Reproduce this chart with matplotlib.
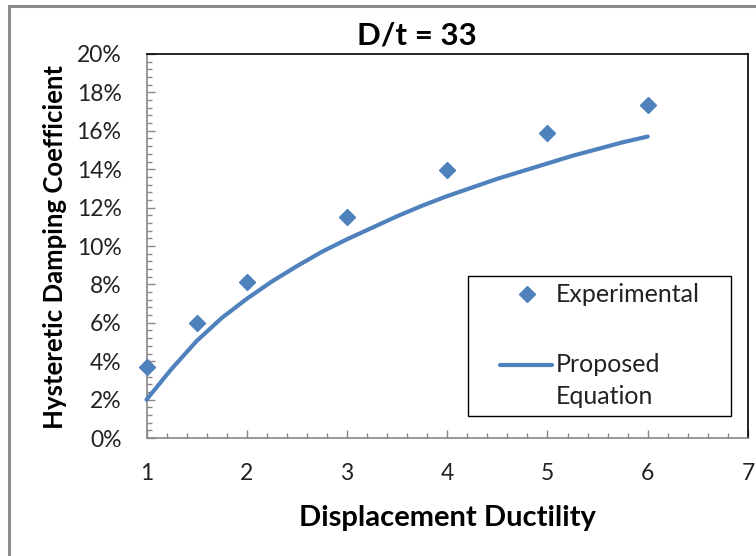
import matplotlib
matplotlib.use("Agg")
import matplotlib.pyplot as plt
from matplotlib.ticker import MultipleLocator, FuncFormatter
from matplotlib.patches import Rectangle
from matplotlib.lines import Line2D

plt.rcParams['font.family'] = ['Lato', 'DejaVu Sans']

# Data
exp_ductility = [1, 1.5, 2, 3, 4, 5, 6]
exp_damping = [3.7, 6.0, 8.15, 11.5, 13.95, 15.9, 17.35]  # percent

eq_ductility = [1.0, 1.25, 1.5, 1.75, 2.0, 2.25, 2.5, 2.75, 3.0, 3.25, 3.5,
                3.75, 4.0, 4.25, 4.5, 4.75, 5.0, 5.25, 5.5, 5.75, 6.0]
eq_damping = [2.0, 3.6, 5.05, 6.25, 7.25, 8.15, 8.95, 9.7, 10.35, 10.95, 11.55,
              12.1, 12.6, 13.05, 13.5, 13.9, 14.3, 14.7, 15.05, 15.4, 15.7]

title = "D/t = 33"
xlabel = "Displacement Ductility"
ylabel = "Hysteretic Damping Coefficient"
labels = ["Experimental", "Proposed", "Equation"]

blue = "#4F81BD"
gray = "#868686"

fig = plt.figure(figsize=(7.56, 5.56), dpi=100)
ax = fig.add_axes([0.1938, 0.2122, 0.7956, 0.6907])

W, H = 756.0, 556.0
def fx(px):
    return px / W
def fy(py):
    return 1 - py / H

# outer chart border (extends beyond the image on right/bottom)
fig.patches.append(Rectangle((fx(9), -0.1), 1.2, fy(6) + 0.1,
                             transform=fig.transFigure, fill=False,
                             edgecolor="#8c8c8c", linewidth=2.2, zorder=0))

ax.plot(eq_ductility, eq_damping, color=blue, linewidth=3.0,
        solid_capstyle='round', solid_joinstyle='round', clip_on=False, zorder=3)
ax.plot(exp_ductility, exp_damping, linestyle='none', marker='D',
        markersize=8.5, color=blue, clip_on=False, zorder=4)

ax.set_xlim(1, 7)
ax.set_ylim(0, 20)
ax.xaxis.set_major_locator(MultipleLocator(1))
ax.xaxis.set_minor_locator(MultipleLocator(0.2))
ax.yaxis.set_major_locator(MultipleLocator(2))
ax.yaxis.set_minor_locator(MultipleLocator(0.4))
ax.yaxis.set_major_formatter(FuncFormatter(lambda v, p: f"{v:.0f}%"))

for s in ['top', 'right']:
    ax.spines[s].set_color('black')
    ax.spines[s].set_linewidth(1.2)
for s in ['left', 'bottom']:
    ax.spines[s].set_color(gray)
    ax.spines[s].set_linewidth(1.2)

ax.tick_params(which='both', direction='in', color=gray, width=1.0,
               labelsize=16.5, labelcolor='#222222')
ax.tick_params(which='major', length=5.5)
ax.tick_params(which='minor', length=3.8)
ax.tick_params(axis='x', which='major', pad=18)
ax.tick_params(axis='y', which='major', pad=18)

fig.text(fx(417), fy(36), title, ha='center', va='center',
         fontsize=22.5, fontweight='bold', color='black')
fig.text(fx(447), fy(518), xlabel, ha='center', va='center',
         fontsize=21, fontweight='bold', color='black')
fig.text(fx(55), fy(247), ylabel, ha='center', va='center',
         rotation=90, fontsize=18.5, fontweight='bold', color='black')

# Legend (drawn as a framed box with handles and labels)
fig.patches.append(Rectangle((fx(468), fy(416)), fx(731) - fx(468), fy(276) - fy(416),
                             transform=fig.transFigure, facecolor='white',
                             edgecolor='black', linewidth=1.0, zorder=5))
fig.lines.append(Line2D([fx(527)], [fy(294)], transform=fig.transFigure,
                        linestyle='none', marker='D', markersize=8, color=blue, zorder=6))
fig.lines.append(Line2D([fx(500), fx(552)], [fy(365), fy(365)], transform=fig.transFigure,
                        color=blue, linewidth=3.0, solid_capstyle='round', zorder=6))
for lab, py in zip(labels, [294, 365, 397]):
    fig.text(fx(556), fy(py), lab, ha='left', va='center', fontsize=18,
             color='#222222', zorder=7)

fig.savefig("out.png", dpi=100)
